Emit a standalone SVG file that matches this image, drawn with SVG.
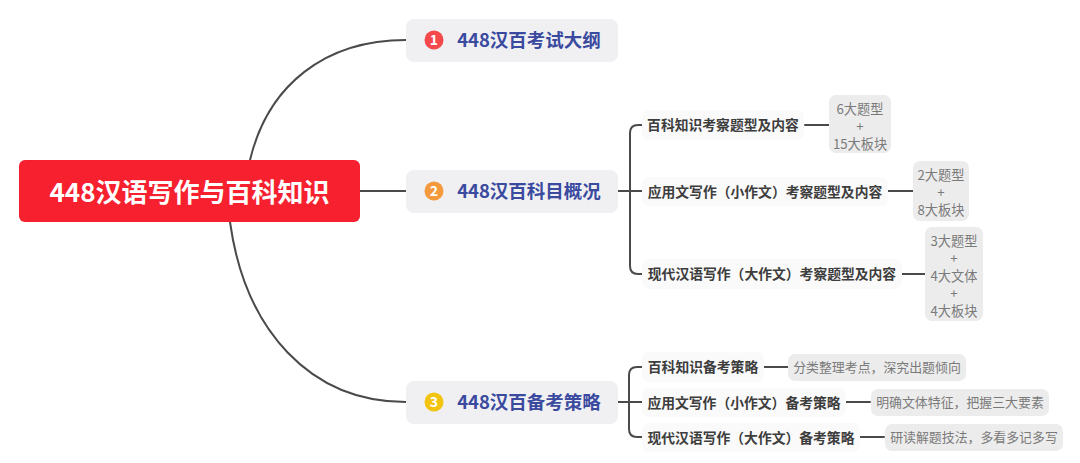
<svg xmlns="http://www.w3.org/2000/svg" width="1080" height="463" viewBox="0 0 1080 463">
<style>
text{font-family:"Noto Sans CJK SC","Noto Sans",sans-serif;text-anchor:middle}
.c{fill:none;stroke:#4a4a4a;stroke-width:2;stroke-linecap:round}
.b{fill:#f0f0f3}
.s{fill:#fafafa}
.l{fill:#ececec}
.bt{font-size:18.500px;font-weight:700;fill:#3a4a9f}
.st{font-size:13.800px;font-weight:700;fill:#3d3d3d}
.lt{font-size:13.200px;fill:#7a7a7a}
.lw{font-size:12.900px;fill:#7a7a7a}
.n{font-size:14px;font-weight:700;fill:#fff}
</style>
<rect width="1080" height="463" fill="#fff"/>
<g id="connectors">
<path class="c" d="M250 160C268 85 325 40 406 40"/>
<path class="c" d="M360 191H406"/>
<path class="c" d="M230 222C245 330 310 402 406 402"/>
<path class="c" d="M618 191H642M642 125H638Q630 125 630 133V266Q630 274 638 274H642"/>
<path class="c" d="M805 125H829M888 191H913M902 274H925"/>
<path class="c" d="M618 402H642M642 367H637Q629 367 629 375V429Q629 437 637 437H642"/>
<path class="c" d="M764 367H788M846 402H870M860 437H884"/>
</g>
<g id="root"><rect x="19" y="160" width="341" height="62" rx="6" fill="#f7202e"/><text x="189.500" y="201.500" font-size="26px" font-weight="700" fill="#fff">448汉语写作与百科知识</text></g>
<g id="b1"><rect class="b" x="406" y="19" width="212" height="43" rx="8"/><circle cx="434" cy="40" r="9.500" fill="#f5484b"/><text class="n" x="434" y="45">1</text><text class="bt" x="529" y="46.500">448汉百考试大纲</text></g>
<g id="b2"><rect class="b" x="406" y="170" width="212" height="43" rx="8"/><circle cx="434" cy="191" r="9.500" fill="#f59a3c"/><text class="n" x="434" y="196">2</text><text class="bt" x="529" y="198">448汉百科目概况</text></g>
<g id="b3"><rect class="b" x="406" y="381" width="212" height="43" rx="8"/><circle cx="434" cy="402" r="9.500" fill="#f2c40f"/><text class="n" x="434" y="407">3</text><text class="bt" x="529" y="409">448汉百备考策略</text></g>
<g id="s1"><rect class="s" x="642" y="110" width="162" height="30" rx="7"/><text class="st" x="723" y="130">百科知识考察题型及内容</text></g>
<g id="s2"><rect class="s" x="642" y="177" width="246" height="29" rx="7"/><text class="st" x="765" y="196.500">应用文写作（小作文）考察题型及内容</text></g>
<g id="s3"><rect class="s" x="642" y="259" width="260" height="30" rx="7"/><text class="st" x="772" y="279">现代汉语写作（大作文）考察题型及内容</text></g>
<g id="l1"><rect class="l" x="829" y="95" width="62" height="58" rx="7"/><text class="lt" x="860" y="114">6大题型</text><text class="lt" x="860" y="131">+</text><text class="lt" x="860" y="149">15大板块</text></g>
<g id="l2"><rect class="l" x="913" y="161" width="56" height="60" rx="7"/><text class="lt" x="941" y="180">2大题型</text><text class="lt" x="941" y="197">+</text><text class="lt" x="941" y="215">8大板块</text></g>
<g id="l3"><rect class="l" x="925" y="227" width="58" height="94" rx="7"/><text class="lt" x="954" y="246">3大题型</text><text class="lt" x="954" y="263">+</text><text class="lt" x="954" y="281">4大文体</text><text class="lt" x="954" y="298">+</text><text class="lt" x="954" y="316">4大板块</text></g>
<g id="s4"><rect class="s" x="642" y="352" width="122" height="30" rx="7"/><text class="st" x="703" y="372">百科知识备考策略</text></g>
<g id="s5"><rect class="s" x="642" y="388" width="204" height="29" rx="7"/><text class="st" x="744" y="407.500">应用文写作（小作文）备考策略</text></g>
<g id="s6"><rect class="s" x="642" y="423" width="218" height="29" rx="7"/><text class="st" x="751" y="442.500">现代汉语写作（大作文）备考策略</text></g>
<g id="l4"><rect class="l" x="788" y="354" width="178" height="27" rx="7"/><text class="lw" x="877" y="372">分类整理考点，深究出题倾向</text></g>
<g id="l5"><rect class="l" x="871" y="389" width="178" height="27" rx="7"/><text class="lw" x="960" y="407">明确文体特征，把握三大要素</text></g>
<g id="l6"><rect class="l" x="885" y="424" width="178" height="27" rx="7"/><text class="lw" x="974" y="442">研读解题技法，多看多记多写</text></g>
</svg>
